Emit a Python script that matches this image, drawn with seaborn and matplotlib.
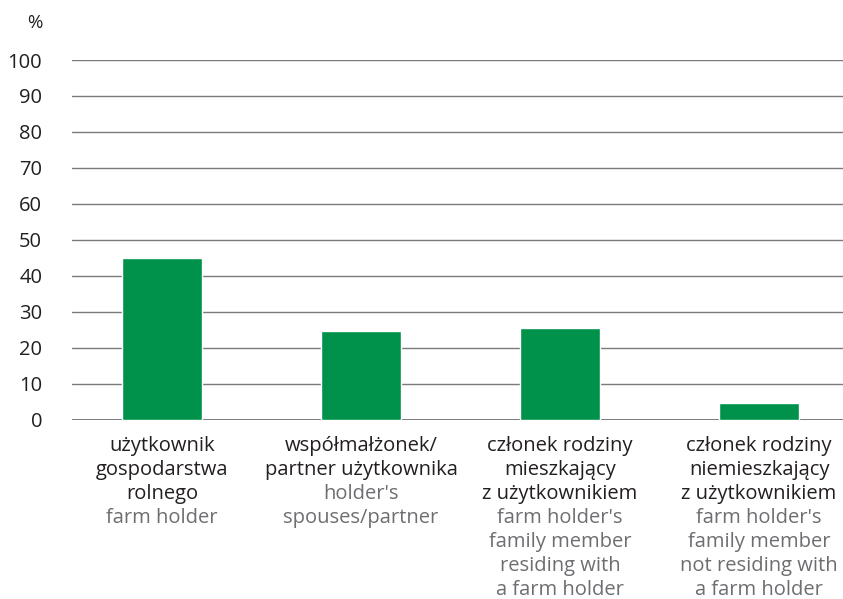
import matplotlib
matplotlib.use("Agg")
import matplotlib.pyplot as plt
import matplotlib.transforms as mtransforms
import seaborn as sns
import pandas as pd

# Data
categories_pl = [
    ["użytkownik", "gospodarstwa", "rolnego"],
    ["współmałżonek/", "partner użytkownika"],
    ["członek rodziny", "mieszkający", "z użytkownikiem"],
    ["członek rodziny", "niemieszkający", "z użytkownikiem"],
]
categories_en = [
    ["farm holder"],
    ["holder's", "spouses/partner"],
    ["farm holder's", "family member", "residing with", "a farm holder"],
    ["farm holder's", "family member", "not residing with", "a farm holder"],
]
values = [44.9, 24.6, 25.5, 4.6]
y_ticks = [0, 10, 20, 30, 40, 50, 60, 70, 80, 90, 100]

sns.set_theme(style="white")
plt.rcParams["font.family"] = ["Open Sans", "DejaVu Sans"]

W, H = 843, 599
FS = 14.5
fig = plt.figure(figsize=(W / 100, H / 100), dpi=100)
ax = fig.add_axes([72 / W, (H - 419.5) / H, 1 - 72 / W, (419.5 - 60) / H])

df = pd.DataFrame({"cat": [str(i) for i in range(len(values))], "val": values})
sns.barplot(data=df, x="cat", y="val", color="#00924a", saturation=1,
            width=0.4, ax=ax, zorder=3)

ax.set_ylim(0, 100)
ax.set_xlim(-0.452, 3.422)
ax.set_yticks(y_ticks)
ax.set_yticklabels([str(t) for t in y_ticks], fontsize=FS, color="#231f20")
ax.tick_params(axis="y", length=0, pad=21.5)
ax.set_xticks([])
ax.set_xlabel("")
ax.set_ylabel("")
for s in ax.spines.values():
    s.set_visible(False)
for t in y_ticks:
    ax.axhline(t, color="#7a7a7a", lw=1.4 if t == 0 else 1.0, zorder=1)

fig.text(42 / W, (H - 28) / H, "%", fontsize=FS - 1, color="#231f20",
         ha="right", va="baseline")

# Two-language category labels below the axis
trans = mtransforms.blended_transform_factory(ax.transData, fig.transFigure)
baselines = [451, 475, 499, 523, 547, 571, 595]
for i, (pl, en) in enumerate(zip(categories_pl, categories_en)):
    k = 0
    for line in pl:
        ax.text(i, (H - baselines[k]) / H, line, transform=trans, ha="center",
                va="baseline", fontsize=FS, color="#231f20")
        k += 1
    for line in en:
        ax.text(i, (H - baselines[k]) / H, line, transform=trans, ha="center",
                va="baseline", fontsize=FS, color="#6d6e71")
        k += 1

fig.savefig("out.png", dpi=100)
